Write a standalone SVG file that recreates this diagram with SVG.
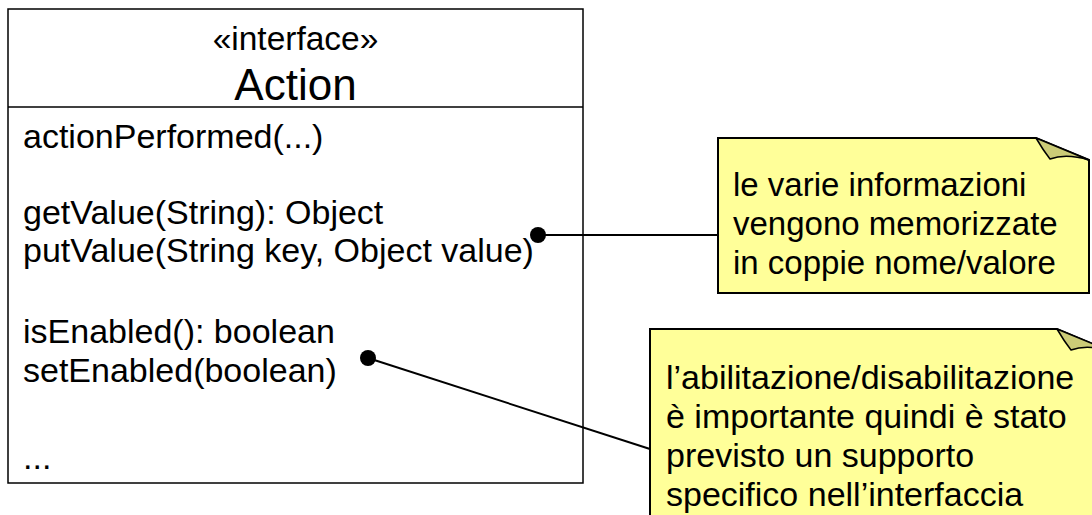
<svg xmlns="http://www.w3.org/2000/svg" width="1092" height="515" viewBox="0 0 1092 515">
  <style>
    .t { font-family: "Liberation Sans", Arial, sans-serif; font-size: 34px; fill: #000; }
    .title { font-size: 44px; }
    .head { font-size: 33.5px; }
    .small { font-size: 33px; }
    .box { fill: #fff; stroke: #000; stroke-width: 1.5; }
    .note { fill: #ffff99; stroke: #000; stroke-width: 2; }
    .fold { fill: #cccc77; stroke: #000; stroke-width: 1.5; stroke-linejoin: round; }
    .conn { stroke: #000; stroke-width: 2; fill: none; }
  </style>

  <!-- Interface class box -->
  <g id="action">
    <rect class="box" x="8" y="9" width="575" height="474"/>
    <line x1="8" y1="107" x2="583" y2="107" stroke="#000" stroke-width="1.5"/>
    <text class="t head" x="295.5" y="50" text-anchor="middle">«interface»</text>
    <text class="t title" x="295.5" y="100" text-anchor="middle">Action</text>
    <text class="t" x="23" y="148">actionPerformed(...)</text>
    <text class="t" x="23" y="224">getValue(String): Object</text>
    <text class="t" x="23" y="262">putValue(String key, Object value)</text>
    <text class="t" x="23" y="343">isEnabled(): boolean</text>
    <text class="t" x="23" y="382">setEnabled(boolean)</text>
    <text class="t" x="23" y="469">...</text>
  </g>

  <!-- Note on the key/value pairs -->
  <g id="note-values">
    <path class="note" d="M718,138 L1036,138 L1089,160 L1089,293 L718,293 Z"/>
    <path class="fold" d="M1036,138 L1089,160 Q1066,153 1050,159 Q1043,150 1036,138 Z"/>
    <text class="t small" x="733" y="196">le varie informazioni</text>
    <text class="t small" x="733" y="235">vengono memorizzate</text>
    <text class="t small" x="733" y="274">in coppie nome/valore</text>
  </g>

  <!-- Note on enabling/disabling -->
  <g id="note-enabled">
    <path class="note" d="M650,329 L1057,329 L1110,351 L1110,540 L650,540 Z"/>
    <path class="fold" d="M1057,329 L1110,351 Q1087,344 1071,350 Q1064,341 1057,329 Z"/>
    <text class="t" x="666" y="389">l’abilitazione/disabilitazione</text>
    <text class="t" x="666" y="428">è importante quindi è stato</text>
    <text class="t" x="666" y="467">previsto un supporto</text>
    <text class="t" x="666" y="506">specifico nell’interfaccia</text>
  </g>

  <!-- Note anchors -->
  <g id="connectors">
    <line class="conn" x1="538" y1="235" x2="718" y2="235"/>
    <circle cx="538" cy="235" r="8"/>
    <line class="conn" x1="368" y1="358" x2="650" y2="449"/>
    <circle cx="368" cy="358" r="8"/>
  </g>
</svg>
